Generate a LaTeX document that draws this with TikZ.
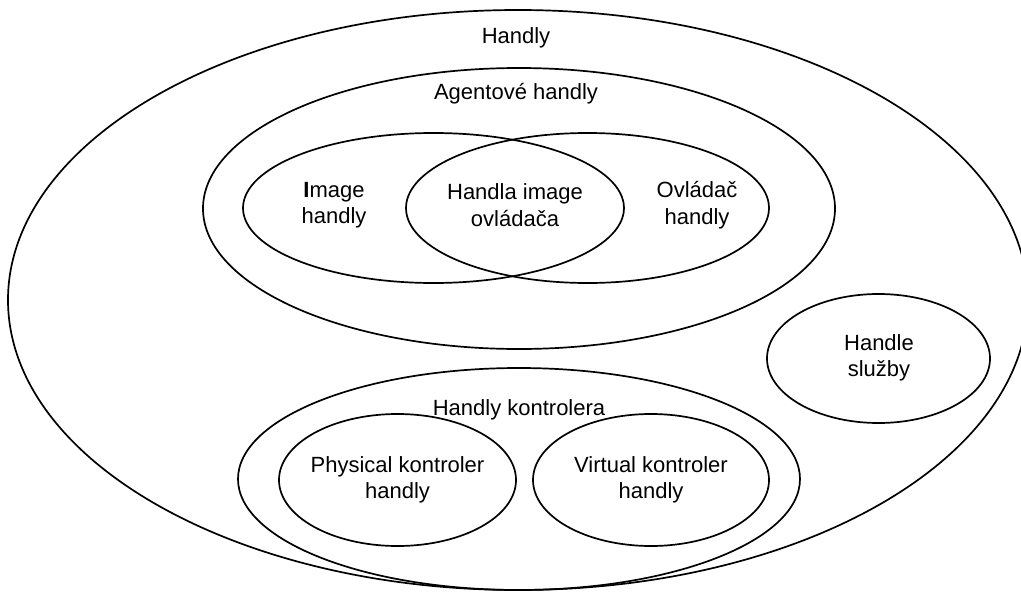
\documentclass[tikz,border=0pt]{standalone}
\usepackage{fontspec}
\setmainfont{Liberation Sans}
\usetikzlibrary{shapes.geometric}
\begin{document}
\begin{tikzpicture}[x=1pt,y=-1pt,
  set/.style={draw=black,line width=1.7pt,ellipse,inner sep=0pt,outer sep=0pt},
  lbl/.style={font=\fontsize{22}{26.4}\selectfont,align=center,inner sep=0pt}]
\useasboundingbox (0,0) rectangle (1021,592);
% sets
\node[set,minimum width=1020pt,minimum height=580pt] (all) at (518,300) {};
\node[set,minimum width=632pt,minimum height=281pt] (agent) at (519,208.5) {};
\node[set,minimum width=381pt,minimum height=150pt] (image) at (433.5,208) {};
\node[set,minimum width=363pt,minimum height=150pt] (ctrl) at (587.5,208) {};
\node[set,minimum width=223pt,minimum height=129pt] (svc) at (878.5,358.5) {};
\node[set,minimum width=562pt,minimum height=222pt] (kontr) at (519,479) {};
\node[set,minimum width=237pt,minimum height=132pt] (phys) at (397.5,480) {};
\node[set,minimum width=236pt,minimum height=132pt] (virt) at (651,480) {};
% labels
\node[lbl,anchor=base] (tall) at (516,43) {Handly};
\node[lbl,anchor=base] (tagent) at (516,99) {Agentové handly};
\node[lbl] (timage) at (334,205) {\textbf{I}mage\\handly};
\node[lbl] (tboth) at (515,205) {Handla image\\ovládača};
\node[lbl] (tctrl) at (697,205) {Ovládač\\handly};
\node[lbl] (tsvc) at (879,358) {Handle\\služby};
\node[lbl,anchor=base] (tkontr) at (519,415) {Handly kontrolera};
\node[lbl] (tphys) at (397.5,480) {Physical kontroler\\handly};
\node[lbl] (tvirt) at (651,480) {Virtual kontroler\\handly};
\end{tikzpicture}
\end{document}
